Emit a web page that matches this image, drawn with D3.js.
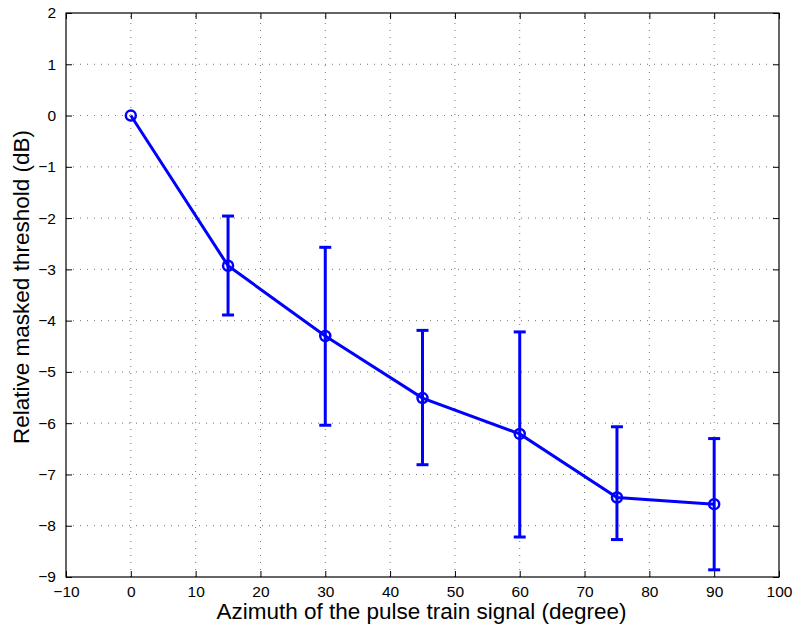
<!DOCTYPE html>
<html><head><meta charset="utf-8">
<script src="https://cdn.jsdelivr.net/npm/d3@7"></script>
<style>body{margin:0;background:#fff}svg{display:block}text{font-family:"Liberation Sans",Arial,sans-serif}</style>
</head><body>
<script>
const azimuth = [0, 15, 30, 45, 60, 75, 90];
const threshold = [0, -2.93, -4.30, -5.51, -6.21, -7.45, -7.58];
const errUpper = [null, -1.96, -2.57, -4.19, -4.22, -6.07, -6.30];
const errLower = [null, -3.89, -6.04, -6.81, -8.22, -8.27, -8.86];
const xTicks = d3.range(-10, 101, 10);
const yTicks = d3.range(-9, 3, 1);

const W = 794, H = 629;
const m = {left: 66, right: 15, top: 13, bottom: 52};
const svg = d3.select("body").append("svg").attr("width", W).attr("height", H);
const x = d3.scaleLinear().domain([-10, 100]).range([m.left, W - m.right]);
const y = d3.scaleLinear().domain([-9, 2]).range([H - m.bottom, m.top]);
const x0 = x.range()[0], x1 = x.range()[1], y0 = y.range()[0], y1 = y.range()[1];

const g = svg.append("g");
g.selectAll(".gx").data(xTicks.filter(t => t > -10 && t < 100)).enter().append("line")
  .attr("x1", d => x(d)).attr("x2", d => x(d)).attr("y1", y0).attr("y2", y1)
  .attr("stroke", "#000").attr("stroke-opacity", 0.55).attr("stroke-width", 1).attr("stroke-dasharray", "1,6");
g.selectAll(".gy").data(yTicks.filter(t => t > -9 && t < 2)).enter().append("line")
  .attr("y1", d => y(d)).attr("y2", d => y(d)).attr("x1", x0).attr("x2", x1)
  .attr("stroke", "#000").attr("stroke-opacity", 0.55).attr("stroke-width", 1).attr("stroke-dasharray", "1,6");

const fmt = d => d < 0 ? "\u2212" + Math.abs(d) : d;
const ax = svg.append("g").attr("transform", `translate(0,${y0})`)
  .call(d3.axisBottom(x).tickValues(xTicks).tickSize(-6).tickPadding(9).tickFormat(fmt));
const axT = svg.append("g").attr("transform", `translate(0,${y1})`)
  .call(d3.axisTop(x).tickValues(xTicks).tickSize(-6).tickFormat(""));
const ay = svg.append("g").attr("transform", `translate(${x0},0)`)
  .call(d3.axisLeft(y).tickValues(yTicks).tickSize(-6).tickPadding(10).tickFormat(fmt));
const ayR = svg.append("g").attr("transform", `translate(${x1},0)`)
  .call(d3.axisRight(y).tickValues(yTicks).tickSize(-6).tickFormat(""));
[ax, axT, ay, ayR].forEach(a => {
  a.select(".domain").remove();
  a.selectAll("line").attr("stroke", "#000").attr("stroke-width", 1);
  a.selectAll("text").attr("font-size", 15.5).attr("fill", "#000").attr("font-family", '"Liberation Sans",Arial,sans-serif');
});
svg.append("rect").attr("x", x0).attr("y", y1).attr("width", x1 - x0).attr("height", y0 - y1)
  .attr("fill", "none").attr("stroke", "#000").attr("stroke-width", 1.2);

const blue = "#0000ff";
const pts = azimuth.map((a, i) => ({a, v: threshold[i], hi: errUpper[i], lo: errLower[i]}));
const eb = svg.append("g").attr("stroke", blue).attr("stroke-width", 3).attr("fill", "none");
pts.filter(p => p.hi !== null).forEach(p => {
  eb.append("line").attr("x1", x(p.a)).attr("x2", x(p.a)).attr("y1", y(p.hi)).attr("y2", y(p.lo));
  eb.append("line").attr("x1", x(p.a) - 6).attr("x2", x(p.a) + 6).attr("y1", y(p.hi)).attr("y2", y(p.hi));
  eb.append("line").attr("x1", x(p.a) - 6).attr("x2", x(p.a) + 6).attr("y1", y(p.lo)).attr("y2", y(p.lo));
});
svg.append("path").datum(pts).attr("fill", "none").attr("stroke", blue).attr("stroke-width", 3)
  .attr("d", d3.line().x(d => x(d.a)).y(d => y(d.v)));
svg.selectAll(".mk").data(pts).enter().append("circle")
  .attr("cx", d => x(d.a)).attr("cy", d => y(d.v)).attr("r", 5)
  .attr("fill", "none").attr("stroke", blue).attr("stroke-width", 2.5);

svg.append("text").attr("x", (x0 + x1) / 2 - 1).attr("y", 619).attr("text-anchor", "middle")
  .attr("font-size", 22.5).text("Azimuth of the pulse train signal (degree)");
svg.append("text").attr("transform", `translate(29,${(y0 + y1) / 2 - 8}) rotate(-90)`).attr("text-anchor", "middle")
  .attr("font-size", 22.5).text("Relative masked threshold (dB)");
</script>
</body></html>
